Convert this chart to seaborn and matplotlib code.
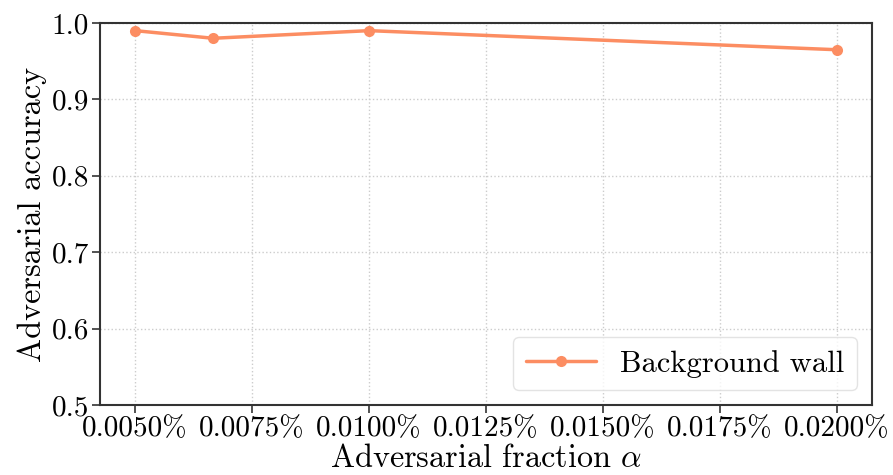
import matplotlib
matplotlib.use("Agg")
import matplotlib.pyplot as plt
import matplotlib.ticker as mticker
import seaborn as sns
import pandas as pd

# Adversarial fraction (in percent) and resulting accuracy
alpha_pct = [0.005, 0.0066667, 0.010, 0.020]
accuracy = [0.990, 0.980, 0.990, 0.965]
series_name = "Background wall"

x_ticks = [0.0050, 0.0075, 0.0100, 0.0125, 0.0150, 0.0175, 0.0200]
y_ticks = [0.5, 0.6, 0.7, 0.8, 0.9, 1.0]

sns.set_theme(style="ticks")
plt.rcParams["font.family"] = ["cmr10", "DejaVu Serif"]
plt.rcParams["mathtext.fontset"] = "cm"
plt.rcParams["axes.unicode_minus"] = False
plt.rcParams["text.color"] = "black"
plt.rcParams["axes.labelcolor"] = "black"
plt.rcParams["xtick.labelcolor"] = "black"
plt.rcParams["ytick.labelcolor"] = "black"

df = pd.DataFrame({"alpha": alpha_pct, "acc": accuracy, "series": series_name})

fig = plt.figure(figsize=(8.93, 4.75), dpi=100)
ax = fig.add_axes([100 / 893, 1 - 405 / 475, (872 - 100) / 893, (405 - 23) / 475])

sns.lineplot(data=df, x="alpha", y="acc", hue="series", palette=["#fc8d62"],
             marker="o", markersize=8, markeredgewidth=0, linewidth=2.5, ax=ax)

ax.set_ylim(0.5, 1.0)
ax.set_xticks(x_ticks)
ax.set_yticks(y_ticks)
ax.xaxis.set_major_formatter(mticker.FuncFormatter(lambda v, p: f"{v:.4f}%"))
ax.yaxis.set_major_formatter(mticker.FuncFormatter(lambda v, p: f"{v:.1f}"))
ax.tick_params(labelsize=21, length=6, width=1.2, color="#333333", pad=2)
for s in ax.spines.values():
    s.set_color("#333333")
    s.set_linewidth(1.5)
ax.grid(True, linestyle=":", color="#cccccc", linewidth=1)

ax.set_xlabel(r"Adversarial fraction $\alpha$", fontsize=23.2, labelpad=1)
ax.set_ylabel("Adversarial accuracy", fontsize=23.2, labelpad=3)

leg = ax.legend(loc="lower right", fontsize=22, frameon=True, handlelength=2.3,
                borderpad=0.4, fancybox=True)
leg.get_frame().set_edgecolor("#dddddd")

fig.savefig("out.png", dpi=100)
